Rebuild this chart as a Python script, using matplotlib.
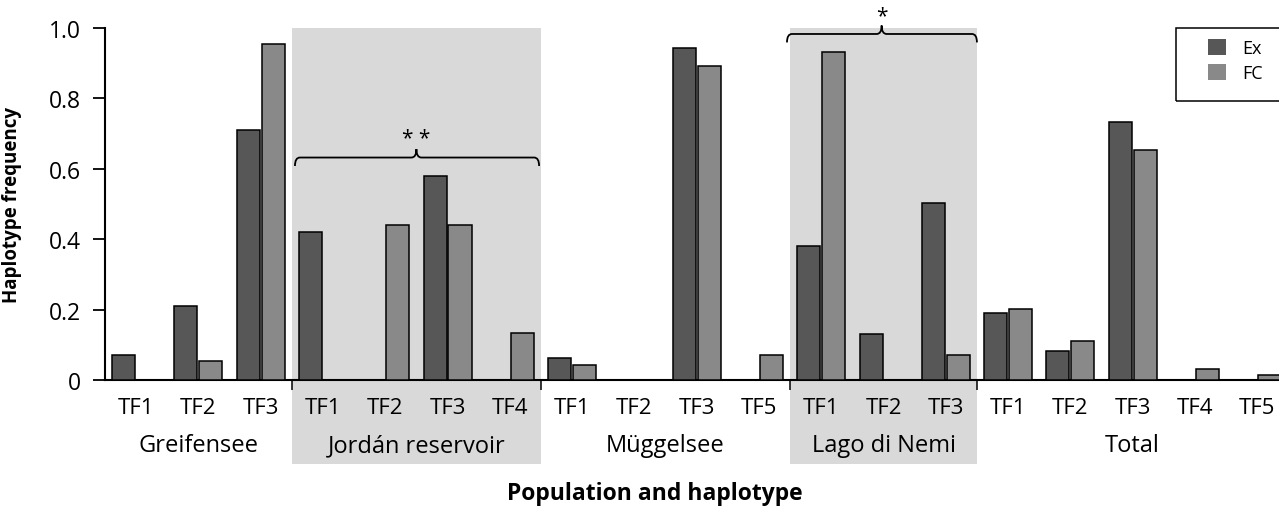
import matplotlib
matplotlib.use("Agg")
import matplotlib.pyplot as plt
from matplotlib.path import Path
from matplotlib.patches import PathPatch, Patch, Rectangle
from matplotlib.transforms import blended_transform_factory
import numpy as np

plt.rcParams['font.family'] = ['Open Sans', 'DejaVu Sans']

# data
populations = ["Greifensee", "Jordán reservoir", "Müggelsee", "Lago di Nemi", "Total"]
haplotypes = [
    ["TF1", "TF2", "TF3"],
    ["TF1", "TF2", "TF3", "TF4"],
    ["TF1", "TF2", "TF3", "TF5"],
    ["TF1", "TF2", "TF3"],
    ["TF1", "TF2", "TF3", "TF4", "TF5"],
]
ex = [0.07, 0.21, 0.71,
      0.42, 0.0, 0.58, 0.0,
      0.062, 0.0, 0.942, 0.0,
      0.381, 0.131, 0.502,
      0.19, 0.082, 0.732, 0.0, 0.0]
fc = [0.0, 0.053, 0.954,
      0.0, 0.44, 0.44, 0.133,
      0.042, 0.0, 0.892, 0.072,
      0.933, 0.0, 0.072,
      0.203, 0.112, 0.653, 0.032, 0.013]
shaded = [1, 3]  # Jordán reservoir, Lago di Nemi
signif = {1: "**", 3: "*"}

EX_COL = "#575757"
FC_COL = "#898989"

W, H = 1279, 510
fig = plt.figure(figsize=(W / 100, H / 100), dpi=100)
ax = fig.add_axes([105 / W, 129 / H, 1174 / W, 352 / H])

x = np.arange(len(ex))
ax.bar(x + 0.3, ex, 0.37, color=EX_COL, edgecolor="black", linewidth=1.1, zorder=3)
ax.bar(x + 0.7, fc, 0.37, color=FC_COL, edgecolor="black", linewidth=1.1, zorder=3)

ax.set_xlim(0, 18.85)
ax.set_ylim(0, 1.0)

# population boundaries
sizes = [len(h) for h in haplotypes]
bounds = np.concatenate([[0], np.cumsum(sizes)])

trans = blended_transform_factory(ax.transData, ax.transAxes)
for k, pop in enumerate(populations):
    a, b = bounds[k], bounds[k + 1]
    if k in shaded:
        ax.axvspan(a, b, ymin=-0.239, ymax=1.0, color="#d9d9d9", lw=0,
                   zorder=0, clip_on=False)
    for j, hap in enumerate(haplotypes[k]):
        ax.text(a + j + 0.5, -0.078, hap, transform=trans, ha="center",
                va="center", fontsize=16)
    ax.text((a + b) / 2, -0.185, pop, transform=trans, ha="center",
            va="center", fontsize=17)


def bracket(x0, x1, xm, y, drop, rise, r=0.08):
    verts = [(x0, y - drop), (x0, y), (x0 + r, y),
             (xm - r, y), (xm, y), (xm, y + rise),
             (xm, y), (xm + r, y),
             (x1 - r, y), (x1, y), (x1, y - drop)]
    codes = [Path.MOVETO, Path.CURVE3, Path.CURVE3,
             Path.LINETO, Path.CURVE3, Path.CURVE3,
             Path.CURVE3, Path.CURVE3,
             Path.LINETO, Path.CURVE3, Path.CURVE3]
    ax.add_patch(PathPatch(Path(verts, codes), fill=False, lw=1.3,
                           edgecolor="black", clip_on=False, zorder=4))


bracket(3.05, 6.97, 5.0, 0.632, 0.024, 0.024)
ax.text(5.0, 0.685, " ".join(signif[1]), ha="center", va="center", fontsize=15)
bracket(10.95, 14.0, 12.47, 0.983, 0.024, 0.024)
ax.text(12.47, 1.035, signif[3], ha="center", va="center", fontsize=15)

# axes styling
for s in ["top", "right"]:
    ax.spines[s].set_visible(False)
ax.spines["left"].set_linewidth(1.5)
ax.spines["bottom"].set_linewidth(1.5)
ax.set_yticks([0, 0.2, 0.4, 0.6, 0.8, 1.0])
ax.set_yticklabels(["0", "0.2", "0.4", "0.6", "0.8", "1.0"])
ax.tick_params(axis="y", direction="out", length=9, width=1.3, pad=8.5,
               labelsize=16.5)
ax.set_xticks(bounds[1:-1])
ax.set_xticklabels([])
ax.tick_params(axis="x", direction="out", length=7, width=1.1)

ax.set_ylabel("Haplotype frequency", fontsize=13.5, fontweight="bold")
ax.yaxis.set_label_coords(-0.0707, 0.5)
fig.text(655 / W, 1 - 494 / H, "Population and haplotype", ha="center",
         va="center", fontsize=16.5, fontweight="bold")

# legend
fig.patches.append(Rectangle((1176 / W, 1 - 102 / H), 0.2, 73 / H,
                             transform=fig.transFigure, fill=False,
                             edgecolor="black", lw=1.1))
handles = [Patch(facecolor=EX_COL, edgecolor="none"),
           Patch(facecolor=FC_COL, edgecolor="none")]
ax.legend(handles, ["Ex", "FC"], frameon=False, loc="upper left",
          bbox_to_anchor=(1208 / W, 1 - 40 / H), bbox_transform=fig.transFigure,
          borderpad=0, borderaxespad=0, handlelength=1.0, handleheight=1.0,
          handletextpad=0.9, labelspacing=0.35, fontsize=13)

fig.savefig("out.png", dpi=100)
